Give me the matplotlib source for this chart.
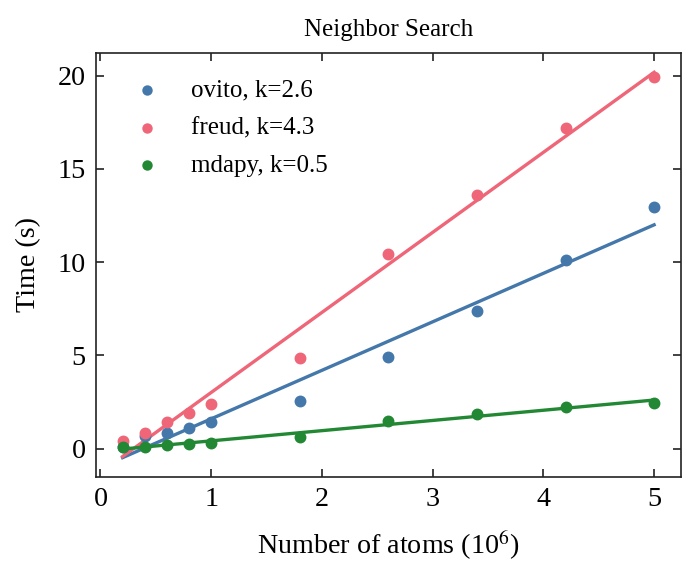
import numpy as np
import matplotlib
matplotlib.use('Agg')
import matplotlib.pyplot as plt

plt.rcParams['font.family'] = ['Liberation Serif', 'DejaVu Serif']
plt.rcParams['mathtext.fontset'] = 'stix'
plt.rcParams['xtick.direction'] = 'in'
plt.rcParams['ytick.direction'] = 'in'
plt.rcParams['xtick.top'] = True
plt.rcParams['ytick.right'] = True

# number of atoms (10^6)
atoms = [0.2, 0.4, 0.6, 0.8, 1.0, 1.8, 2.6, 3.4, 4.2, 5.0]

# time (s)
ovito = [0.1, 0.65, 0.85, 1.1, 1.4, 2.55, 4.9, 7.35, 10.1, 12.95]
freud = [0.4, 0.85, 1.4, 1.9, 2.4, 4.85, 10.45, 13.6, 17.2, 19.95]
mdapy = [0.1, 0.1, 0.2, 0.25, 0.3, 0.6, 1.5, 1.85, 2.25, 2.45]

names = ['ovito', 'freud', 'mdapy']
colors = ['#4477AA', '#EE6677', '#228833']

fig = plt.figure(figsize=(701 / 150, 583 / 150), dpi=150)
ax = fig.add_axes([0.137, 0.182, 0.834, 0.727])

x = np.array(atoms)
for name, y, c in zip(names, [ovito, freud, mdapy], colors):
    k, b = np.polyfit(x, y, 1)
    ax.scatter(x, y, s=22, color=c, zorder=3, label='%s, k=%.1f' % (name, k))
    ax.plot(x, k * x + b, color=c, lw=1.6)

for s in ax.spines.values():
    s.set_color('#222222')
ax.tick_params(labelsize=13.5, length=4, pad=5, color='#222222')
ax.set_yticks([0, 5, 10, 15, 20])
ax.set_title('Neighbor Search', fontsize=12, pad=8)
ax.set_xlabel(r'Number of atoms (10$^6$)', fontsize=13.5, labelpad=8)
ax.set_ylabel('Time (s)', fontsize=13.5, labelpad=8)
ax.legend(frameon=False, fontsize=12, handletextpad=0.75, loc='upper left',
          borderaxespad=0.65, labelspacing=0.6, markerscale=0.85)

fig.savefig('out.png', dpi=150)
